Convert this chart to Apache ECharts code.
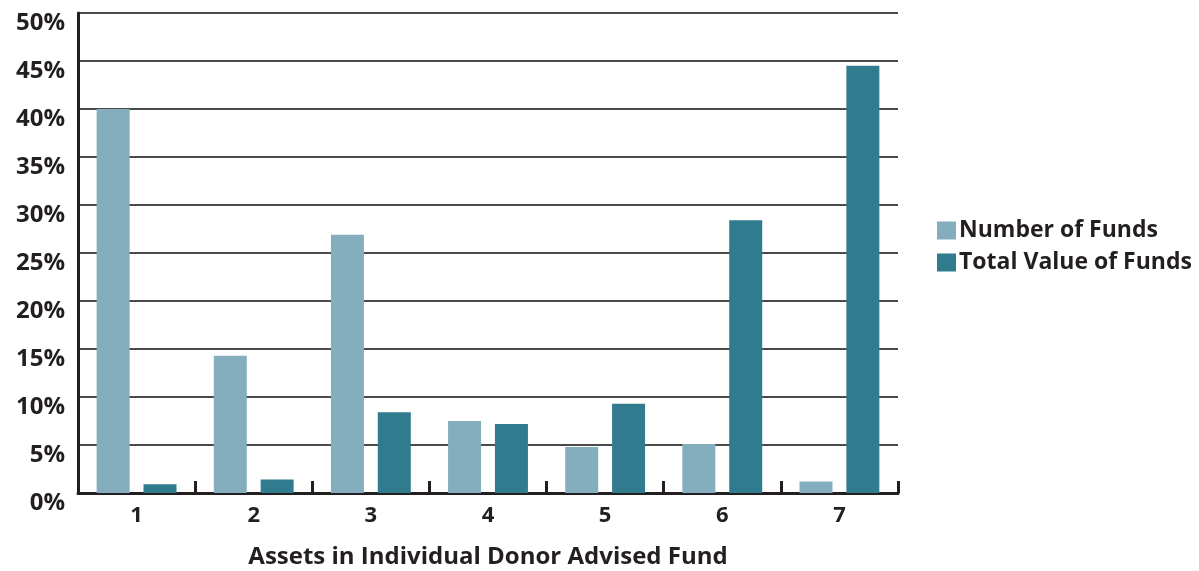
<!DOCTYPE html>
<html>
<head>
<meta charset="utf-8">
<script src="https://cdn.jsdelivr.net/npm/echarts@6/dist/echarts.min.js"></script>
<style>html,body{margin:0;padding:0;background:#fff}#c{width:1199px;height:571px}</style>
</head>
<body>
<div id="c"></div>
<script>
var categories = ['1', '2', '3', '4', '5', '6', '7'];
var numberOfFunds = [40.0, 14.3, 26.9, 7.5, 4.8, 5.1, 1.2];
var totalValueOfFunds = [0.9, 1.4, 8.4, 7.2, 9.3, 28.4, 44.5];
var seriesNames = ['Number of Funds', 'Total Value of Funds'];
var xAxisTitle = 'Assets in Individual Donor Advised Fund';

var FONT = '"Open Sans", "Noto Sans", sans-serif';
var TXT = '#231f20';
var chart = echarts.init(document.getElementById('c'));
chart.setOption({
  animation: false,
  backgroundColor: '#fff',
  grid: { left: 78, right: 301, top: 13, bottom: 78, containLabel: false, outerBoundsMode: 'none' },
  legend: {
    orient: 'vertical', left: 932, top: 214,
    itemWidth: 19, itemHeight: 18, itemGap: 9,
    icon: 'rect',
    textStyle: { fontFamily: FONT, fontWeight: 'bold', fontSize: 23, color: TXT, padding: [0, 0, 0, -2] },
    data: seriesNames
  },
  xAxis: {
    type: 'category', data: categories,
    name: xAxisTitle, nameLocation: 'middle', nameGap: 52,
    nameTextStyle: { fontFamily: FONT, fontWeight: 'bold', fontSize: 24, color: TXT },
    axisLine: { lineStyle: { color: TXT, width: 3 } },
    axisTick: { show: true, inside: true, length: 12, interval: 0, lineStyle: { color: TXT, width: 3 } },
    axisLabel: { margin: 12, fontFamily: FONT, fontWeight: 'bold', fontSize: 22, color: TXT }
  },
  yAxis: {
    type: 'value', min: 0, max: 50, interval: 5,
    axisLine: { show: true, lineStyle: { color: TXT, width: 3 } },
    axisTick: { show: false },
    splitLine: { lineStyle: { color: '#4a4a4a', width: 2 } },
    axisLabel: { formatter: '{value}%', margin: 13, verticalAlign: 'top', padding: [-2, 0, 0, 0],
      fontFamily: FONT, fontWeight: 'bold', fontSize: 24, color: TXT }
  },
  series: [
    { name: seriesNames[0], type: 'bar', data: numberOfFunds, barWidth: 33, barGap: '42%',
      itemStyle: { color: '#84adbd' } },
    { name: seriesNames[1], type: 'bar', data: totalValueOfFunds, barWidth: 33, barGap: '42%',
      itemStyle: { color: '#307b8e' } }
  ]
});
</script>
</body>
</html>
